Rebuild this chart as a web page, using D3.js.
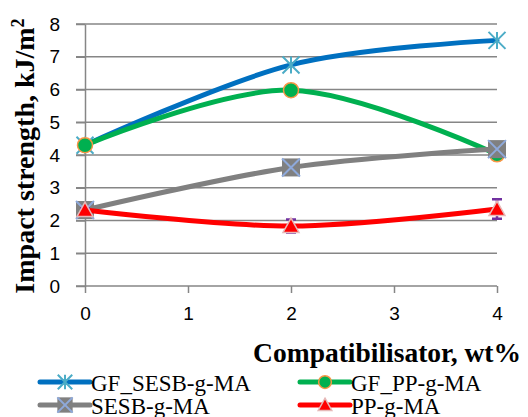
<!DOCTYPE html>
<html><head><meta charset="utf-8">
<script src="https://cdn.jsdelivr.net/npm/d3@7"></script>
<style>
body{margin:0;background:#fff}svg{display:block}
.serif{font-family:"Liberation Serif","Times New Roman","DejaVu Serif",serif}
.sans{font-family:"Liberation Sans",Arial,sans-serif}
</style>
</head><body>
<script>
const xValues = [0, 2, 4];
const gfSesb = [4.3, 6.75, 7.5];
const gfPp = [4.3, 5.98, 4.02];
const sesb = [2.32, 3.62, 4.18];
const pp = [2.32, 1.83, 2.35];
const ppErr = [0.05, 0.2, 0.3];
const xTicks = [0, 1, 2, 3, 4];
const yTicks = [0, 1, 2, 3, 4, 5, 6, 7, 8];
const seriesNames = ["GF_SESB-g-MA", "GF_PP-g-MA", "SESB-g-MA", "PP-g-MA"];

const W = 528, H = 417;
const svg = d3.select("body").append("svg").attr("width", W).attr("height", H);
const x = d3.scaleLinear().domain([0, 4]).range([85, 497]);
const y = d3.scaleLinear().domain([0, 8]).range([286, 24]);
const grid = "#868686";
const fmt = d3.format("d");

// gridlines
svg.append("g").selectAll("line").data(yTicks.filter(d => d > 0)).join("line")
  .attr("x1", 76).attr("x2", x(4)).attr("y1", d => y(d)).attr("y2", d => y(d))
  .attr("stroke", grid).attr("stroke-width", 1.5);

// y axis
const yAxis = svg.append("g").attr("transform", `translate(${x(0)},0)`)
  .call(d3.axisLeft(y).tickValues(yTicks).tickFormat(fmt).tickSize(9).tickSizeOuter(0).tickPadding(16));
yAxis.attr("font-family", null);
yAxis.select(".domain").attr("stroke", grid).attr("stroke-width", 1.5);
yAxis.selectAll(".tick line").attr("stroke", grid).attr("stroke-width", 1.5);
yAxis.selectAll("text").attr("class", "sans").attr("font-size", 19).attr("fill", "#000");

// x axis
const xAxis = svg.append("g").attr("transform", `translate(0,${y(0)})`)
  .call(d3.axisBottom(x).tickValues(xTicks).tickFormat(fmt).tickSize(7).tickSizeOuter(0).tickPadding(14));
xAxis.attr("font-family", null);
xAxis.select(".domain").attr("stroke", grid).attr("stroke-width", 1.5).attr("d", `M76,0H${x(4)}`);
xAxis.selectAll(".tick line").attr("stroke", grid).attr("stroke-width", 1.5);
xAxis.selectAll("text").attr("class", "sans").attr("font-size", 19).attr("fill", "#000");

// axis titles
svg.append("text").attr("class", "serif").attr("transform", "translate(34,156) rotate(-90)")
  .attr("text-anchor", "middle")
  .attr("font-weight", "bold").attr("font-size", 28).attr("fill", "#000")
  .html("Impact strength, kJ/m<tspan dy='-10' font-size='18'>2</tspan>");
svg.append("text").attr("class", "serif").attr("x", 521).attr("y", 362).attr("text-anchor", "end")
  .attr("font-weight", "bold").attr("font-size", 27.5).attr("fill", "#000")
  .text("Compatibilisator, wt%");

const line = d3.line().x(d => x(d[0])).y(d => y(d[1])).curve(d3.curveCardinal.tension(0));

function marker(g, type, cx, cy, k) {
  k = k || 1;
  if (type === "star") {
    const r = 8.5 * k;
    g.append("path").attr("d", `M${cx - r},${cy - r}L${cx + r},${cy + r}M${cx - r},${cy + r}L${cx + r},${cy - r}M${cx},${cy - r}L${cx},${cy + r}`)
      .attr("stroke", "#4BACC6").attr("stroke-width", 2).attr("fill", "none");
  } else if (type === "circle") {
    g.append("circle").attr("cx", cx).attr("cy", cy).attr("r", 7.5 * k)
      .attr("fill", "#00B050").attr("stroke", "#F79646").attr("stroke-width", 1.5);
  } else if (type === "square") {
    const r = 9 * k;
    g.append("rect").attr("x", cx - r).attr("y", cy - r).attr("width", 2 * r).attr("height", 2 * r)
      .attr("fill", "#808080");
    g.append("path").attr("d", `M${cx - r},${cy - r}L${cx + r},${cy + r}M${cx - r},${cy + r}L${cx + r},${cy - r}`)
      .attr("stroke", "#8EA9DB").attr("stroke-width", 2);
  } else if (type === "tri") {
    const r = 8 * k;
    g.append("path").attr("d", `M${cx},${cy - r}L${cx + r},${cy + r * 0.8}L${cx - r},${cy + r * 0.8}Z`)
      .attr("fill", "#FF0000").attr("stroke", "#E6B9B8").attr("stroke-width", 1.5);
  }
}

const series = [
  { name: seriesNames[0], vals: gfSesb, color: "#0070C0", m: "star" },
  { name: seriesNames[1], vals: gfPp, color: "#00B050", m: "circle" },
  { name: seriesNames[2], vals: sesb, color: "#808080", m: "square" },
  { name: seriesNames[3], vals: pp, color: "#FF0000", m: "tri" }
];

series.forEach((s, i) => {
  const g = svg.append("g");
  const pts = xValues.map((xv, j) => [xv, s.vals[j]]);
  g.append("path").attr("d", line(pts)).attr("fill", "none")
    .attr("stroke", s.color).attr("stroke-width", 5).attr("stroke-linecap", "round");
  if (s.m === "tri") {
    pts.forEach((p, j) => {
      const e = ppErr[j];
      const cx = x(p[0]), y1 = y(p[1] + e), y2 = y(p[1] - e);
      g.append("path").attr("d", `M${cx},${y1}L${cx},${y2}M${cx - 5},${y1}L${cx + 5},${y1}M${cx - 5},${y2}L${cx + 5},${y2}`)
        .attr("stroke", "#7030A0").attr("stroke-width", 2.5).attr("fill", "none");
    });
  }
  pts.forEach(p => marker(g, s.m, x(p[0]), y(p[1])));
});

// legend
const legPos = [[40, 382], [300, 382], [40, 405], [300, 405]];
series.forEach((s, i) => {
  const [lx, ly] = legPos[i];
  const g = svg.append("g");
  g.append("line").attr("x1", lx).attr("x2", lx + 50).attr("y1", ly).attr("y2", ly)
    .attr("stroke", s.color).attr("stroke-width", 5).attr("stroke-linecap", "round");
  marker(g, s.m, lx + 25, ly, 0.85);
  g.append("text").attr("class", "serif").attr("x", lx + 51).attr("y", ly + 8.5)
    .attr("font-size", 23).attr("fill", "#000").text(s.name);
});
</script>
</body></html>
